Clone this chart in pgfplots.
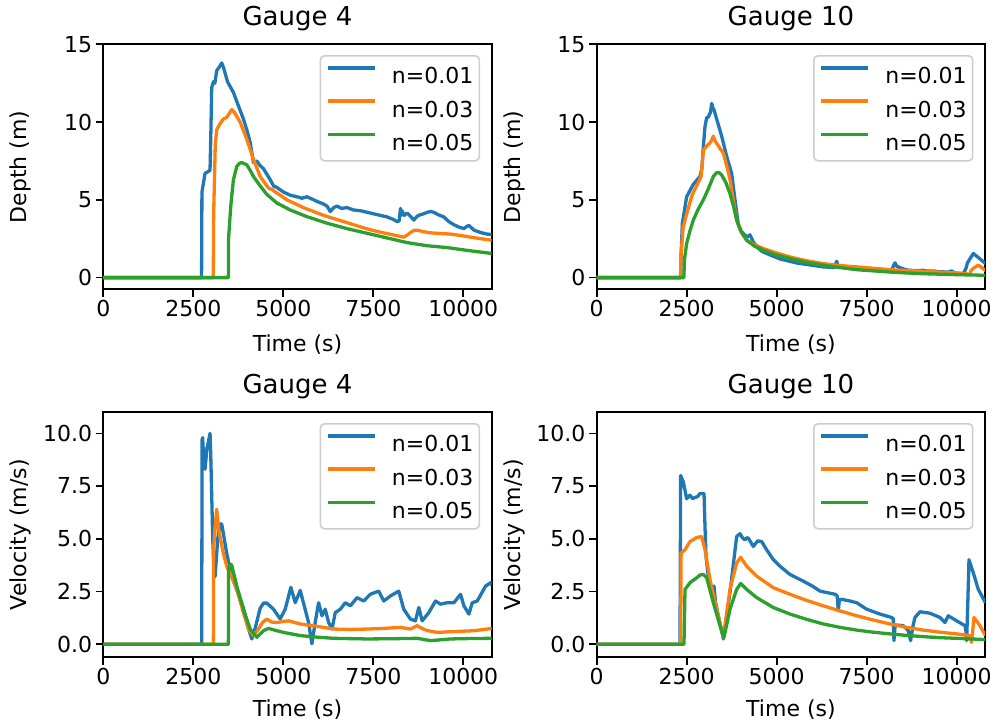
\documentclass[border=0pt]{standalone}
\usepackage{pgfplots}
\pgfplotsset{compat=1.18}
\usepackage{fontspec}
\setmainfont{DejaVu Sans}
\definecolor{mblue}{HTML}{1F77B4}
\definecolor{morange}{HTML}{FF7F0E}
\definecolor{mgreen}{HTML}{2CA02C}
\pgfplotsset{
  myax/.style={
    scale only axis, width=388.4pt, height=245pt,
    xmin=0, xmax=10790,
    xtick={0,2500,5000,7500,10000},
    scaled x ticks=false, scaled y ticks=false,
    /pgf/number format/1000 sep={},
    /pgf/number format/assume math mode=true,
    tick pos=left, tick align=outside,
    major tick length=7.7pt,
    every tick/.style={black, line width=1.7pt},
    axis line style={black, line width=1.7pt},
    font=\fontsize{22}{26}\selectfont,
    ticklabel style={font=\fontsize{22}{26}\selectfont},
    label style={font=\fontsize{22}{26}\selectfont},
    title style={font=\fontsize{26}{31}\selectfont, at={(axis description cs:0.5,1.053)}, anchor=base},
    xlabel={Time (s)},
    xlabel style={at={(axis description cs:0.5,-0.2547)}, anchor=base},
    ylabel style={at={(axis description cs:-0.197,0.5)}, anchor=base, rotate=0},
    legend style={at={(rel axis cs:0.970,0.956)}, anchor=north east,
      draw=black!20, line width=1.5pt, fill=white, rounded corners=4pt,
      inner xsep=6pt, inner ysep=10.5pt, row sep=15.5pt,
      font=\fontsize{22}{26}\selectfont,
      nodes={inner sep=0pt, text height=16pt, text depth=0pt},
      /tikz/every odd column/.style={column sep=15.5pt}},
    legend cell align=left,
    legend image code/.code={\draw[##1, line width=3.3pt] (0pt,8pt) -- (46.7pt,8pt);},
    every axis plot/.append style={line width=3.3pt, line join=round},
  },
  dep/.style={myax, ymin=-0.75, ymax=15, ytick={0,5,10,15}, ylabel={Depth (m)}},
  vel/.style={myax, ymin=-0.62, ymax=11, ytick={0,2.5,5,7.5,10}, ylabel={Velocity (m/s)},
    xlabel style={at={(axis description cs:0.5,-0.242)}, anchor=base},
    yticklabel style={/pgf/number format/fixed, /pgf/number format/fixed zerofill, /pgf/number format/precision=1}},
}
\begin{document}
\begin{tikzpicture}
\path[use as bounding box] (0pt,0pt) rectangle (999pt,722pt);

% ---------- Depth, Gauge 4
\begin{axis}[dep, at={(103.3pt,432.7pt)}, anchor=south west, title={Gauge 4}]
\addplot[mblue] table {
0 0
2730 0
2740 5.5
2826 6.7
2900 6.8
2965 6.9
2990 9.5
3011 12.2
3060 12.6
3100 12.5
3150 13.3
3240 13.6
3290 13.8
3340 13.5
3450 12.6
3615 11.9
3760 11.0
3893 10.2
4000 9.4
4079 8.7
4172 7.4
4264 7.5
4357 7.2
4450 7.0
4636 6.3
4728 5.9
4820 5.8
5007 5.5
5192 5.3
5378 5.2
5520 5.1
5656 5.2
5800 5.05
5934 4.9
6100 4.75
6213 4.6
6306 4.25
6400 4.5
6491 4.6
6620 4.45
6770 4.5
6950 4.35
7141 4.3
7330 4.2
7512 4.1
7700 4.0
7883 3.9
8050 3.75
8162 3.6
8220 3.65
8255 4.45
8280 4.0
8301 4.3
8360 4.0
8440 4.15
8530 3.95
8626 3.7
8720 3.95
8811 4.05
8900 4.1
9000 4.2
9090 4.25
9183 4.2
9300 4.05
9461 3.9
9600 3.6
9740 3.4
9880 3.25
10018 3.15
10100 3.3
10157 3.35
10300 3.05
10482 2.9
10650 2.8
10800 2.78
};
\addplot[morange] table {
0 0
3055 0
3065 4
3110 8.5
3150 9.5
3243 9.9
3340 10.2
3429 10.3
3510 10.6
3568 10.8
3650 10.6
3800 10.0
3986 8.9
4172 7.6
4357 6.5
4543 5.9
4620 5.7
4682 5.7
4750 5.55
4914 5.3
5100 5.0
5285 4.8
5560 4.5
5842 4.25
6120 4.0
6399 3.8
6680 3.6
6956 3.4
7230 3.2
7512 3.02
7800 2.87
8069 2.74
8250 2.65
8348 2.6
8450 2.75
8533 2.9
8640 3.05
8719 3.05
8900 2.95
9090 2.88
9400 2.83
9647 2.8
9950 2.7
10204 2.6
10500 2.5
10800 2.4
};
\addplot[mgreen] table {
0 0
3475 0
3480 2.5
3541 4.6
3615 6.3
3708 7.15
3780 7.35
3847 7.4
3986 7.25
4080 6.9
4172 6.5
4357 5.9
4543 5.35
4821 4.8
5192 4.35
5656 3.92
6213 3.5
6770 3.15
7327 2.85
7883 2.55
8440 2.25
8997 2.05
9554 1.93
10111 1.75
10800 1.55
};
\legend{n=0.01,n=0.03,n=0.05}
\end{axis}

% ---------- Depth, Gauge 10
\begin{axis}[dep, at={(596.7pt,432.7pt)}, anchor=south west, title={Gauge 10}]
\addplot[mblue] table {
0 0
2330 0
2345 1.5
2380 3.5
2499 5.2
2684 6.0
2870 6.5
2920 7.0
2962 8.4
3008 9.7
3055 10.3
3100 10.3
3129 10.5
3160 10.6
3194 11.2
3230 10.9
3258 10.8
3332 10.2
3471 9.1
3610 7.8
3749 6.7
3842 5.0
3934 3.4
4000 3.0
4073 2.84
4180 2.6
4258 2.75
4350 2.3
4444 2.0
4580 1.7
4721 1.55
5092 1.2
5555 0.94
6295 0.69
6600 0.65
6666 1.05
6700 0.8
6758 0.73
7221 0.58
7777 0.47
8193 0.43
8250 0.8
8286 0.95
8330 0.75
8425 0.64
8600 0.5
8703 0.47
8900 0.45
9073 0.47
9200 0.42
9351 0.43
9500 0.38
9768 0.36
9860 0.43
9950 0.3
10184 0.25
10260 0.6
10300 0.95
10462 1.55
10600 1.3
10800 0.9
};
\addplot[morange] table {
0 0
2330 0
2345 1.5
2400 3.2
2499 4.1
2650 5.3
2777 5.9
2900 6.5
2940 7.5
2962 8.2
3050 8.45
3147 8.66
3210 8.9
3240 9.1
3286 8.8
3400 8.4
3518 8.0
3610 7.2
3703 6.3
3800 4.9
3888 3.7
4020 2.9
4166 2.41
4400 2.1
4629 1.87
5000 1.58
5369 1.33
5800 1.1
6295 0.9
6750 0.78
7221 0.69
7700 0.6
8147 0.51
8600 0.46
9073 0.41
9550 0.35
9999 0.3
10250 0.25
10369 0.2
10400 0.45
10462 0.6
10601 0.8
10700 0.65
10800 0.45
};
\addplot[mgreen] table {
0 0
2420 0
2440 1.2
2499 2.2
2590 3.0
2684 3.7
2820 4.4
2962 5.0
3100 5.7
3240 6.5
3332 6.75
3400 6.75
3471 6.6
3590 6.1
3703 5.4
3800 4.6
3888 3.7
4020 2.95
4166 2.4
4400 2.0
4629 1.76
5000 1.45
5369 1.23
5800 1.0
6295 0.8
6750 0.65
7221 0.51
7700 0.43
8147 0.36
8600 0.3
9073 0.25
9550 0.22
9999 0.19
10800 0.15
};
\legend{n=0.01,n=0.03,n=0.05}
\end{axis}

% ---------- Velocity, Gauge 4
\begin{axis}[vel, at={(103.3pt,64.7pt)}, anchor=south west, title={Gauge 4}]
\addplot[mblue] table {
0 0
2733 0
2745 9.7
2760 9.8
2800 8.4
2826 8.3
2880 9.3
2920 9.6
2965 10.0
2985 9.0
3040 5.0
3080 3.3
3104 3.2
3180 5.0
3243 5.7
3290 5.7
3340 5.2
3429 4.3
3568 3.2
3708 2.6
3893 1.7
4032 0.75
4125 0.25
4218 0.75
4357 1.7
4450 1.95
4543 1.95
4640 1.8
4728 1.66
4914 1.2
5053 1.66
5211 2.7
5331 1.97
5471 2.55
5582 1.82
5703 1.03
5795 0.02
5888 1.05
5981 1.97
6074 1.35
6166 1.66
6259 1.03
6352 0.72
6445 1.5
6584 1.66
6724 1.97
6863 1.82
7048 2.21
7234 2.05
7419 2.37
7651 2.52
7791 2.05
7976 2.29
8208 2.52
8347 1.66
8533 1.19
8672 1.11
8765 1.74
8858 1.11
9043 1.5
9229 2.05
9368 1.9
9554 1.97
9740 1.97
9925 2.37
10018 1.82
10157 1.43
10250 1.97
10389 2.05
10621 2.76
10761 2.92
10800 2.8
};
\addplot[morange] table {
0 0
3058 0
3065 4.5
3090 5.2
3150 6.4
3200 5.5
3243 5.1
3336 4.3
3429 3.7
3568 3.2
3708 2.6
3893 1.5
4032 0.72
4172 0.41
4311 0.72
4430 1.05
4543 1.19
4680 1.05
4821 1.03
5000 1.08
5146 1.11
5471 0.96
5934 0.85
6399 0.72
6850 0.7
7327 0.72
7800 0.75
8255 0.8
8533 0.72
8719 0.88
8850 0.75
9000 0.65
9276 0.56
9740 0.6
10297 0.64
10800 0.75
};
\addplot[mgreen] table {
0 0
3475 0
3480 3.6
3530 3.8
3568 3.75
3708 2.76
3893 1.66
4079 0.72
4264 0.33
4450 0.64
4589 0.75
4800 0.65
5007 0.56
5471 0.41
5900 0.34
6399 0.28
7327 0.25
8000 0.26
8719 0.28
9090 0.17
9647 0.25
10200 0.27
10800 0.28
};
\legend{n=0.01,n=0.03,n=0.05}
\end{axis}

% ---------- Velocity, Gauge 10
\begin{axis}[vel, at={(596.7pt,64.7pt)}, anchor=south west, title={Gauge 10}]
\addplot[mblue] table {
0 0
2314 0
2332 8.0
2380 7.8
2407 7.7
2499 6.9
2592 7.07
2660 6.9
2730 6.96
2800 7.0
2870 7.15
2981 7.15
3010 5.5
3036 4.2
3100 3.2
3194 2.6
3258 2.76
3300 2.0
3379 1.35
3518 0.25
3703 2.45
3888 5.11
3980 5.24
4050 5.05
4119 4.95
4170 5.05
4212 5.03
4351 4.64
4470 4.9
4582 4.87
4721 4.48
4907 4.01
5092 3.7
5369 3.31
5740 2.99
6000 2.75
6203 2.52
6619 2.37
6680 2.3
6712 1.58
6740 2.1
6805 2.13
7036 2.05
7221 1.97
7499 1.66
7869 1.43
8193 1.27
8240 1.2
8258 0.17
8290 0.9
8314 0.91
8518 0.88
8656 0.64
8721 0.17
8790 0.9
8842 1.27
8980 1.54
9258 1.47
9536 1.27
9675 1.03
9768 1.35
9999 1.11
10231 0.88
10260 0.6
10277 0.17
10310 2.0
10342 4.01
10462 3.39
10601 2.6
10800 1.97
};
\addplot[morange] table {
0 0
2332 0
2345 4.33
2453 4.48
2592 4.87
2777 5.06
2916 5.11
3008 4.48
3147 3.07
3332 1.66
3518 0.33
3703 2.6
3888 3.86
3999 4.12
4166 3.7
4444 3.23
4907 2.68
5369 2.37
5830 2.08
6295 1.82
6760 1.58
7221 1.35
7680 1.15
8147 0.96
8600 0.8
9073 0.67
9540 0.57
9999 0.49
10369 0.41
10416 0.09
10480 1.27
10647 0.88
10800 0.4
};
\addplot[mgreen] table {
0 0
2425 0
2453 2.6
2592 2.92
2777 3.15
2870 3.28
2962 3.31
3055 3.15
3240 1.97
3425 0.88
3536 0.33
3703 1.66
3888 2.6
3999 2.88
4166 2.6
4444 2.21
4907 1.74
5369 1.43
5830 1.18
6295 0.96
6760 0.8
7221 0.67
7680 0.57
8147 0.49
8600 0.42
9073 0.36
9540 0.31
9999 0.28
10800 0.22
};
\legend{n=0.01,n=0.03,n=0.05}
\end{axis}
\end{tikzpicture}
\end{document}
